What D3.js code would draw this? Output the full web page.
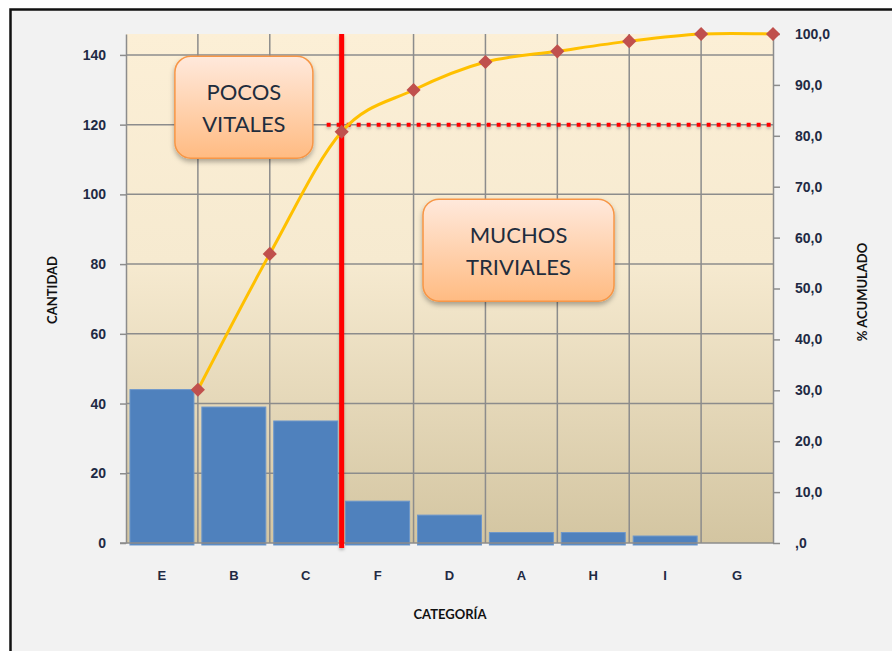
<!DOCTYPE html>
<html>
<head>
<meta charset="utf-8">
<script src="https://cdn.jsdelivr.net/npm/d3@7"></script>
<style>
  body { margin: 0; background: #ffffff; }
  svg { display: block; font-family: Lato, "Open Sans", sans-serif; }
  .axis text { fill: #1f2a44; font-size: 14px; font-weight: bold; }
  .axis path, .axis line { stroke: #8c8c8c; stroke-width: 1.5; }
</style>
</head>
<body>
<div id="chart"></div>
<script>
// categories in Pareto order
const categories = ["E", "B", "C", "F", "D", "A", "H", "I", "G"];
// CANTIDAD per category
const counts = [44, 39, 35, 12, 8, 3, 3, 2, 0];
// % ACUMULADO
const cumulative = [30.1, 56.8, 80.8, 89.0, 94.5, 96.6, 98.6, 100.0, 100.0];
const leftTicks = [0, 20, 40, 60, 80, 100, 120, 140];
const rightTicks = [0, 10, 20, 30, 40, 50, 60, 70, 80, 90, 100];
const leftMax = 146;
const thresholdCount = 120;   // dotted cut line (CANTIDAD units)
const cutAfter = "C";         // red vertical separator after this category
const notes = [
  { lines: ["POCOS", "VITALES"], cat: "B", dx: 0.64, value: 125, w: 138, h: 102 },
  { lines: ["MUCHOS", "TRIVIALES"], cat: "A", dx: 0.46, value: 84, w: 191, h: 102 }
];

const W = 892, H = 651;
const plot = { left: 126, right: 773, top: 34, bottom: 543 };

const svg = d3.select("#chart").append("svg")
    .attr("width", W)
    .attr("height", H);

const defs = svg.append("defs");

const bg = defs.append("linearGradient")
    .attr("id", "plotBg")
    .attr("x1", 0).attr("y1", 0).attr("x2", 0).attr("y2", 1);
bg.append("stop").attr("offset", "0%").attr("stop-color", "#fcefd6");
bg.append("stop").attr("offset", "45%").attr("stop-color", "#f6ead0");
bg.append("stop").attr("offset", "100%").attr("stop-color", "#d3c5a1");

const boxGrad = defs.append("linearGradient")
    .attr("id", "boxGrad")
    .attr("x1", 0).attr("y1", 0).attr("x2", 0).attr("y2", 1);
boxGrad.append("stop").attr("offset", "0%").attr("stop-color", "#ffe9dc");
boxGrad.append("stop").attr("offset", "100%").attr("stop-color", "#ffbb82");

const shadow = defs.append("filter")
    .attr("id", "shadow")
    .attr("x", "-20%").attr("y", "-20%").attr("width", "140%").attr("height", "140%");
shadow.append("feDropShadow")
    .attr("dx", 0).attr("dy", 3).attr("stdDeviation", 2.5)
    .attr("flood-color", "#000").attr("flood-opacity", 0.3);

// user-space region so zero-width lines still render
const softShadow = defs.append("filter")
    .attr("id", "softShadow")
    .attr("filterUnits", "userSpaceOnUse")
    .attr("x", 0).attr("y", 0).attr("width", W).attr("height", H);
softShadow.append("feDropShadow")
    .attr("dx", 0).attr("dy", 2).attr("stdDeviation", 1.5)
    .attr("flood-color", "#000").attr("flood-opacity", 0.25);

// outer chart panel
svg.append("rect")
    .attr("x", 10.5).attr("y", 9.5)
    .attr("width", W + 20).attr("height", H + 20)
    .attr("fill", "#f2f2f2")
    .attr("stroke", "#111")
    .attr("stroke-width", 2.5);

const x = d3.scaleBand()
    .domain(categories)
    .range([plot.left, plot.right])
    .padding(0);
const step = x.step();

const yL = d3.scaleLinear().domain([0, leftMax]).range([plot.bottom, plot.top]);
const yR = d3.scaleLinear().domain([0, 100]).range([plot.bottom, plot.top]);

// plot background
svg.append("rect")
    .attr("x", plot.left).attr("y", plot.top)
    .attr("width", plot.right - plot.left)
    .attr("height", plot.bottom - plot.top)
    .attr("fill", "url(#plotBg)");

// gridlines
const grid = svg.append("g").attr("stroke", "#8c8c8c").attr("stroke-width", 1.5);
grid.selectAll(".hgrid")
    .data(leftTicks.filter(t => t > 0))
    .enter().append("line")
    .attr("x1", plot.left).attr("x2", plot.right)
    .attr("y1", d => yL(d)).attr("y2", d => yL(d));
grid.selectAll(".vgrid")
    .data(categories.slice(0, -1))
    .enter().append("line")
    .attr("x1", d => x(d) + step).attr("x2", d => x(d) + step)
    .attr("y1", plot.top).attr("y2", plot.bottom);

// bars
svg.append("g")
    .selectAll("rect")
    .data(categories.map((c, i) => ({ cat: c, value: counts[i] })).filter(d => d.value > 0))
    .enter().append("rect")
    .attr("x", d => x(d.cat) + step * 0.055)
    .attr("width", step * 0.89)
    .attr("y", d => yL(d.value))
    .attr("height", d => yL(0) - yL(d.value) + 2)
    .attr("fill", "#4f81bd")
    .attr("stroke", "#6d97cb")
    .attr("stroke-width", 1);

// axes
svg.append("g")
    .attr("class", "axis")
    .attr("transform", `translate(${plot.left},0)`)
    .call(d3.axisLeft(yL).tickValues(leftTicks).tickSize(6).tickPadding(14).tickSizeOuter(0));

svg.append("g")
    .attr("class", "axis")
    .attr("transform", `translate(${plot.right},0)`)
    .call(d3.axisRight(yR)
        .tickValues(rightTicks)
        .tickSize(7)
        .tickPadding(15)
        .tickSizeOuter(0)
        .tickFormat(d => d === 0 ? ",0" : d.toFixed(1).replace(".", ",")));

const bottomAxis = svg.append("g")
    .attr("class", "axis")
    .attr("transform", `translate(0,${plot.bottom})`)
    .call(d3.axisBottom(x).tickSize(0).tickPadding(28));
bottomAxis.select(".domain").remove();
bottomAxis.selectAll("text").style("font-size", "13px");

svg.append("line")
    .attr("x1", plot.left - 6).attr("x2", plot.right)
    .attr("y1", plot.bottom).attr("y2", plot.bottom)
    .attr("stroke", "#8c8c8c").attr("stroke-width", 1.5);

// red separator between vital few and trivial many
const cutX = x(cutAfter) + step;
svg.append("line")
    .attr("x1", cutX).attr("x2", cutX)
    .attr("y1", yL(leftMax)).attr("y2", yL(0) + 5)
    .attr("stroke", "#ff0000")
    .attr("stroke-width", 5)
    .attr("filter", "url(#softShadow)");

// dotted threshold line
svg.append("line")
    .attr("x1", cutX - 15).attr("x2", plot.right)
    .attr("y1", yL(thresholdCount)).attr("y2", yL(thresholdCount))
    .attr("stroke", "#ff0000")
    .attr("stroke-width", 4)
    .attr("stroke-dasharray", "4,6")
    .attr("filter", "url(#softShadow)");

// cumulative line
const pts = categories.map((c, i) => ({ cat: c, value: cumulative[i] }));
const line = d3.line()
    .x(d => x(d.cat) + step)
    .y(d => yR(d.value))
    .curve(d3.curveCardinal.tension(0));

svg.append("path")
    .datum(pts)
    .attr("d", line)
    .attr("fill", "none")
    .attr("stroke", "#ffc000")
    .attr("stroke-width", 3);

svg.append("g")
    .selectAll("path")
    .data(pts)
    .enter().append("path")
    .attr("d", d3.symbol(d3.symbolSquare, 100))
    .attr("transform", d => `translate(${x(d.cat) + step},${yR(d.value)}) rotate(45)`)
    .attr("fill", "#c0504d");

// callouts
notes.forEach(n => {
    const cx = x(n.cat) + step * n.dx;
    const cy = yL(n.value);
    const g = svg.append("g");
    g.append("rect")
        .attr("x", cx - n.w / 2).attr("y", cy - n.h / 2)
        .attr("width", n.w).attr("height", n.h)
        .attr("rx", 16).attr("ry", 16)
        .attr("fill", "url(#boxGrad)")
        .attr("stroke", "#f79646")
        .attr("stroke-width", 1.5)
        .attr("filter", "url(#shadow)");
    g.selectAll("text")
        .data(n.lines)
        .enter().append("text")
        .attr("x", cx)
        .attr("y", (d, i) => cy + (i - 0.5) * 32)
        .attr("text-anchor", "middle")
        .attr("dominant-baseline", "central")
        .style("font-size", "22px")
        .style("fill", "#1f2d3d")
        .text(d => d);
});

// axis titles
svg.append("text")
    .attr("transform", "translate(52,290) rotate(-90)")
    .attr("text-anchor", "middle")
    .attr("dominant-baseline", "central")
    .style("font-size", "13px")
    .style("font-weight", "bold")
    .style("fill", "#111")
    .text("CANTIDAD");

svg.append("text")
    .attr("transform", "translate(862,292) rotate(-90)")
    .attr("text-anchor", "middle")
    .attr("dominant-baseline", "central")
    .style("font-size", "13px")
    .style("font-weight", "bold")
    .style("fill", "#111")
    .text("% ACUMULADO");

svg.append("text")
    .attr("x", 450)
    .attr("y", 614)
    .attr("text-anchor", "middle")
    .attr("dominant-baseline", "central")
    .style("font-size", "13px")
    .style("font-weight", "bold")
    .style("fill", "#111")
    .text("CATEGORÍA");
</script>
</body>
</html>
